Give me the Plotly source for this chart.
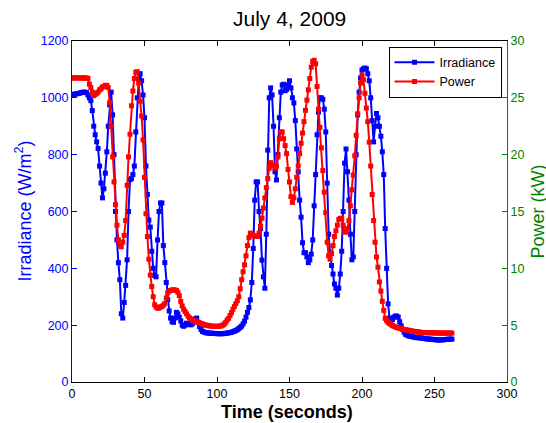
import plotly.graph_objects as go

# Time in seconds (one sample per second)
time_s = list(range(0, 263))

irradiance = [
    1012, 1012, 1013, 1014, 1015, 1016, 1018, 1019, 1020, 1020,
    1018, 1010, 1000, 990, 955, 900, 870, 845, 822, 760,
    700, 648, 680, 735, 810, 900, 975, 1020, 940, 800,
    600, 500, 420, 360, 240, 225, 280, 340, 430, 600,
    712, 716, 730, 760, 880, 1000, 1065, 1085, 1060, 1010,
    930, 760, 660, 570, 545, 460, 400, 375, 370, 500,
    600, 630, 630, 480, 420, 350, 290, 250, 225, 212,
    210, 225, 245, 240, 228, 215, 200, 196, 200, 207,
    206, 203, 201, 205, 212, 222, 225, 210, 195, 185,
    178, 176, 174, 173, 172, 172, 172, 171, 171, 171,
    170, 170, 170, 170, 170, 171, 171, 172, 173, 174,
    175, 177, 179, 181, 184, 188, 192, 197, 205, 214,
    228, 245, 262, 289, 350, 470, 640, 704, 704, 600,
    540, 429, 370, 330, 520, 816, 1000, 1035, 1010, 900,
    740, 711, 800, 930, 1020, 1045, 1048, 1025, 1030, 1045,
    1060, 1035, 1000, 982, 920, 820, 740, 640, 580, 490,
    455, 455, 440, 420, 430, 450, 500, 620, 730, 870,
    950, 1000, 1000, 995, 960, 880, 700, 520, 450, 410,
    380, 345, 330, 306, 330, 380, 460, 600, 770, 820,
    740, 640, 520, 430, 440, 600, 800, 940, 1020, 1070,
    1098, 1102, 1105, 1102, 1085, 1060, 1000, 920, 845, 900,
    945, 930, 900, 865, 810, 730, 540, 400, 275, 225,
    215, 220, 228, 232, 232, 228, 212, 198, 185, 175,
    168, 165, 163, 161, 160, 159, 158, 157, 156, 156,
    155, 155, 154, 153, 152, 152, 151, 151, 150, 150,
    149, 149, 148, 148, 148, 148, 149, 149, 150, 150,
    151, 151, 151,
]

power_kw = [
    26.75, 26.75, 26.75, 26.75, 26.75, 26.75, 26.75, 26.75, 26.75, 26.75,
    26.75, 26.7, 26.2, 25.9, 25.5, 25.2, 25.3, 25.4, 25.5, 25.7,
    25.8, 25.95, 26.0, 26.1, 26.1, 25.9, 24.6, 22.5, 19.8, 17.6,
    15.6, 13.8, 12.5, 12.0, 11.9, 12.3, 12.9, 14.2, 17.3, 19.8,
    21.8, 24.3, 25.6, 26.7, 27.25, 27.3, 26.3, 24.7, 23.4, 21.3,
    18.0, 14.8, 12.8, 10.8, 9.4, 8.4, 7.5, 6.8, 6.6, 6.5,
    6.5, 6.6, 6.65, 6.75, 6.9, 7.4, 7.85, 8.0, 8.05, 8.1,
    8.1, 8.1, 8.05, 7.9, 7.6, 7.1, 6.7, 6.4, 6.2, 6.0,
    5.8, 5.65, 5.55, 5.45, 5.4, 5.35, 5.3, 5.25, 5.2, 5.15,
    5.1, 5.05, 5.0, 5.0, 4.95, 4.95, 4.92, 4.9, 4.9, 4.9,
    4.9, 4.9, 4.92, 4.95, 5.0, 5.1, 5.25, 5.45, 5.6, 5.85,
    6.1, 6.4, 6.65, 6.9, 7.15, 7.5, 8.2, 9.0, 9.7, 10.3,
    11.1, 12.0, 12.7, 13.1, 13.0, 12.9, 12.85, 12.8, 12.8, 13.1,
    13.7, 14.4, 15.3, 16.2, 17.1, 17.9, 18.8, 19.3, 19.1, 19.0,
    18.8, 19.0, 19.8, 21.4, 22.0, 22.0, 21.4, 20.8, 20.1, 18.7,
    17.6, 16.3, 15.8, 16.2, 17.0, 18.0, 19.0, 20.1, 21.0, 21.9,
    22.9, 23.9, 24.8, 25.7, 26.7, 27.7, 28.2, 28.3, 28.0, 26.0,
    24.0, 22.4, 20.6, 18.6, 16.7, 14.9, 12.3, 11.1, 10.8, 11.3,
    12.0, 12.8, 13.3, 13.8, 14.3, 14.4, 14.4, 13.8, 13.2, 13.2,
    13.5, 14.2, 15.5, 16.9, 18.2, 19.9, 21.7, 23.6, 25.0, 26.3,
    27.0, 26.6, 25.4, 24.1, 22.9, 21.1, 19.0, 16.5, 14.2, 12.3,
    11.0, 10.1, 8.8, 8.0, 7.1, 6.3, 5.6, 5.4, 5.25, 5.15,
    5.05, 4.97, 4.9, 4.85, 4.8, 4.75, 4.72, 4.7, 4.65, 4.62,
    4.6, 4.57, 4.55, 4.52, 4.5, 4.47, 4.45, 4.43, 4.41, 4.4,
    4.38, 4.36, 4.35, 4.35, 4.34, 4.34, 4.33, 4.33, 4.33, 4.32,
    4.32, 4.32, 4.31, 4.31, 4.31, 4.3, 4.3, 4.3, 4.3, 4.3,
    4.3, 4.3, 4.3,
]

x_ticks = [0, 50, 100, 150, 200, 250, 300]
left_ticks = [0, 200, 400, 600, 800, 1000, 1200]
right_ticks = [0, 5, 10, 15, 20, 25, 30]

BLUE = "#0000FF"
RED = "#FF0000"
GREEN = "#008000"
FONT = "Liberation Sans, Arial, sans-serif"

W, H = 546, 423
L, R, T, B = 72, 39, 41, 41
PW, PH = W - L - R, H - T - B

fig = go.Figure()
fig.add_trace(go.Scatter(
    x=time_s, y=irradiance, name="Irradiance", mode="lines+markers",
    line=dict(color=BLUE, width=2), marker=dict(symbol="square", size=5, color=BLUE),
    yaxis="y",
))
fig.add_trace(go.Scatter(
    x=time_s, y=power_kw, name="Power", mode="lines+markers",
    line=dict(color=RED, width=2), marker=dict(symbol="square", size=5, color=RED),
    yaxis="y2",
))

fig.update_layout(
    width=W, height=H,
    margin=dict(l=L, r=R, t=T, b=B, autoexpand=False),
    paper_bgcolor="white", plot_bgcolor="white",
    font=dict(family=FONT, size=12.5, color="black"),
    xaxis=dict(
        range=[0, 300], tickvals=x_ticks, ticktext=[str(v) for v in x_ticks],
        showline=True, linecolor="black", linewidth=1, mirror="ticks",
        ticks="inside", ticklen=5, tickcolor="black", showgrid=False, zeroline=False,
        tickfont=dict(size=12.5, color="black"), automargin=False,
    ),
    yaxis=dict(
        range=[0, 1200], tickvals=left_ticks, ticktext=[str(v) for v in left_ticks],
        showline=True, linecolor=BLUE, linewidth=1,
        ticks="inside", ticklen=5, tickcolor=BLUE, showgrid=False, zeroline=False,
        tickfont=dict(size=12.5, color=BLUE), automargin=False,
    ),
    yaxis2=dict(
        range=[0, 30], tickvals=right_ticks, ticktext=[str(v) for v in right_ticks],
        overlaying="y", side="right", anchor="x",
        showline=True, linecolor=GREEN, linewidth=1,
        ticks="inside", ticklen=5, tickcolor=GREEN, showgrid=False, zeroline=False,
        tickfont=dict(size=12.5, color=GREEN), automargin=False,
    ),
    legend=dict(
        x=(501.5 - L) / PW, y=(H - B - 46.5) / PH, xanchor="right", yanchor="top",
        bgcolor="white", bordercolor="black", borderwidth=1,
        font=dict(size=12.5, color="black"),
        tracegroupgap=0, itemwidth=40,
    ),
    showlegend=True,
    annotations=[
        dict(text="July 4, 2009", xref="paper", yref="paper",
             x=0.5, y=(H - 18 - B) / PH, xanchor="center", yanchor="middle",
             showarrow=False, font=dict(size=21, color="black", family=FONT)),
        dict(text="<b>Time (seconds)</b>", xref="paper", yref="paper",
             x=(287 - L) / PW, y=(H - 412 - B) / PH, xanchor="center", yanchor="middle",
             showarrow=False, font=dict(size=18, color="black", family=FONT)),
        dict(text="Irradiance (W/m<sup>2</sup>)", xref="paper", yref="paper",
             x=(24 - L) / PW, y=0.5, xanchor="center", yanchor="middle", textangle=-90,
             showarrow=False, font=dict(size=18, color=BLUE, family=FONT)),
        dict(text="Power (kW)", xref="paper", yref="paper",
             x=(537 - L) / PW, y=0.5, xanchor="center", yanchor="middle", textangle=-90,
             showarrow=False, font=dict(size=18, color=GREEN, family=FONT)),
    ],
)

fig.write_html(
    "out.html",
    config={"displayModeBar": False},
    post_script="document.body.style.margin='0';document.body.style.overflow='hidden';",
)
